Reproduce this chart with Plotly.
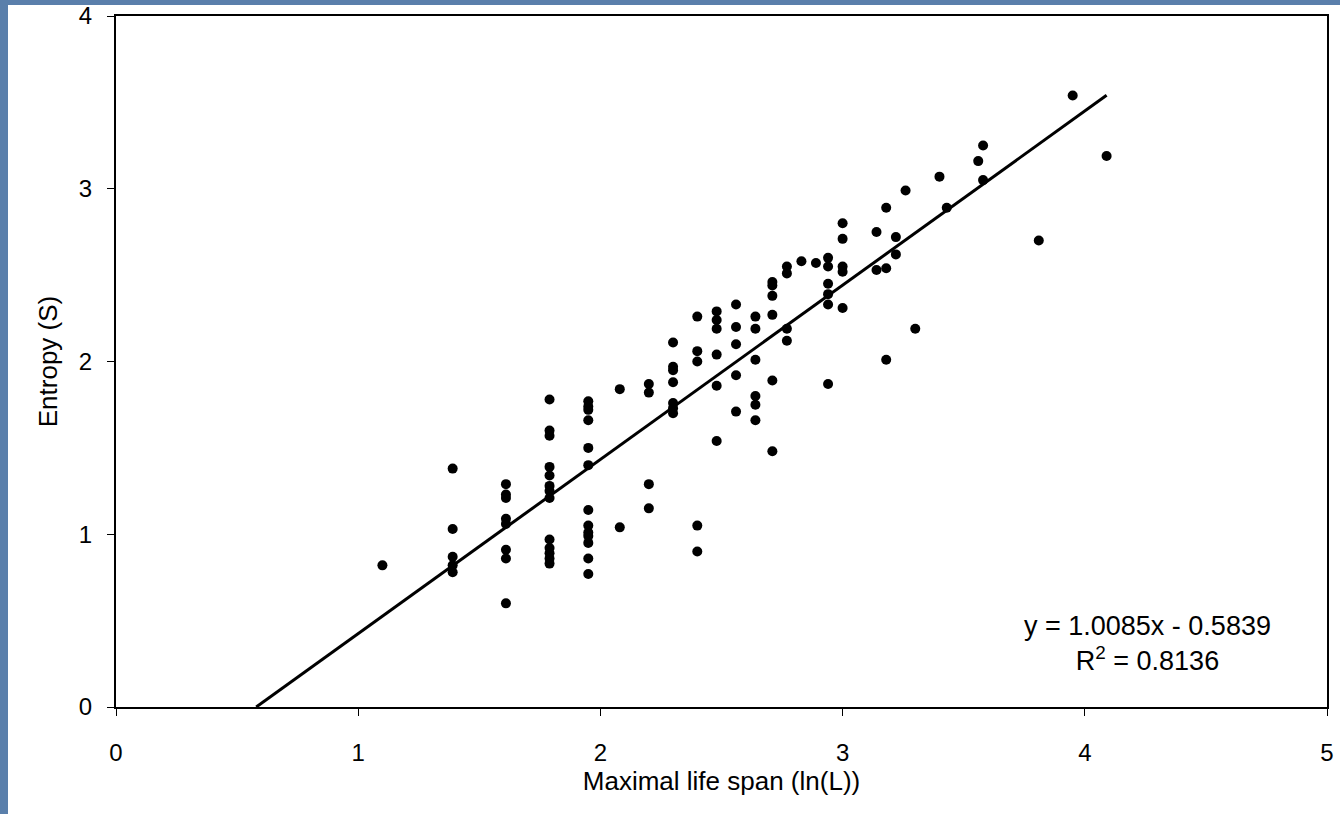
import numpy as np
import plotly.graph_objects as go

# Maximal life span (ln L) and entropy S, read column by column
ln_L = (
    [1.10]
    + [1.39] * 5
    + [1.61] * 8
    + [1.79] * 13
    + [1.95] * 13
    + [2.08] * 2
    + [2.20] * 4
    + [2.30] * 7
    + [2.40] * 5
    + [2.48] * 6
    + [2.56] * 5
    + [2.64] * 6
    + [2.71] * 6
    + [2.77] * 4
    + [2.83, 2.89]
    + [2.94] * 6
    + [3.00] * 5
    + [3.14] * 2
    + [3.18] * 3
    + [3.22] * 2
    + [3.26, 3.30, 3.40, 3.43, 3.56, 3.58, 3.58, 3.81, 3.95, 4.09]
)
entropy_S = (
    [0.82]
    + [1.38, 1.03, 0.87, 0.82, 0.78]
    + [1.29, 1.23, 1.21, 1.09, 1.06, 0.91, 0.86, 0.60]
    + [1.78, 1.60, 1.57, 1.39, 1.34, 1.28, 1.25, 1.21, 0.97, 0.92, 0.89, 0.86, 0.83]
    + [1.77, 1.74, 1.72, 1.66, 1.50, 1.40, 1.14, 1.05, 1.01, 0.99, 0.95, 0.86, 0.77]
    + [1.84, 1.04]
    + [1.87, 1.82, 1.29, 1.15]
    + [2.11, 1.97, 1.95, 1.88, 1.76, 1.73, 1.70]
    + [2.26, 2.06, 2.00, 1.05, 0.90]
    + [2.29, 2.24, 2.19, 2.04, 1.86, 1.54]
    + [2.33, 2.20, 2.10, 1.92, 1.71]
    + [2.26, 2.19, 2.01, 1.80, 1.75, 1.66]
    + [2.46, 2.44, 2.38, 2.27, 1.89, 1.48]
    + [2.55, 2.51, 2.19, 2.12]
    + [2.58, 2.57]
    + [2.60, 2.55, 2.45, 2.39, 2.33, 1.87]
    + [2.80, 2.71, 2.55, 2.52, 2.31]
    + [2.75, 2.53]
    + [2.89, 2.54, 2.01]
    + [2.72, 2.62]
    + [2.99, 2.19, 3.07, 2.89, 3.16, 3.25, 3.05, 2.70, 3.54, 3.19]
)

# Trendline as printed on the chart
slope = 1.0085
intercept = -0.5839
r_squared = 0.8136

x_ticks = [0, 1, 2, 3, 4, 5]
y_ticks = [0, 1, 2, 3, 4]

x_title = "Maximal life span (ln(L))"
y_title = "Entropy (S)"

FONT = "Liberation Sans, Arial, sans-serif"
BLUE = "#5a7fab"

trend_x = np.array([-intercept / slope, max(ln_L)])
trend_y = slope * trend_x + intercept

fig = go.Figure()
fig.add_trace(go.Scatter(
    x=trend_x, y=trend_y, mode="lines",
    line=dict(color="black", width=3), showlegend=False, hoverinfo="skip",
))
fig.add_trace(go.Scatter(
    x=ln_L, y=entropy_S, mode="markers",
    marker=dict(color="black", size=10, line=dict(width=0)),
    showlegend=False,
))

fig.add_annotation(
    x=4.26, y=0.37, xref="x", yref="y",
    text=f"y = {slope:.4f}x - {abs(intercept):.4f}<br>R<sup>2</sup> = {r_squared:.4f}",
    showarrow=False, align="center",
    font=dict(family=FONT, size=27, color="black"),
)

# white page over a blue backdrop (left and top edges)
fig.add_shape(
    type="rect", xref="paper", yref="paper", layer="below",
    x0=(8 - 116) / 1211, x1=1.05, y0=-0.2, y1=(707 - 5) / 691,
    fillcolor="white", line=dict(width=0),
)

fig.update_layout(
    width=1340, height=814,
    margin=dict(l=116, r=13, t=16, b=107),
    paper_bgcolor=BLUE,
    plot_bgcolor="white",
    font=dict(family=FONT, color="black", size=24),
    xaxis=dict(
        range=[0, 5], tickvals=x_ticks, ticktext=[str(v) for v in x_ticks],
        showgrid=False, zeroline=False, automargin=False,
        showline=True, linecolor="black", linewidth=2, mirror=True,
        ticks="outside", ticklen=7, tickcolor="black", tickwidth=1,
        ticklabelstandoff=16,
        tickfont=dict(size=24),
        title=dict(text=x_title, font=dict(size=26), standoff=2),
    ),
    yaxis=dict(
        range=[0, 4], tickvals=y_ticks, ticktext=[str(v) for v in y_ticks],
        showgrid=False, zeroline=False, automargin=False,
        showline=True, linecolor="black", linewidth=2, mirror=True,
        ticks="outside", ticklen=7, tickcolor="black", tickwidth=1,
        ticklabelstandoff=10,
        tickfont=dict(size=24),
        title=dict(text=y_title, font=dict(size=26), standoff=14),
    ),
)

fig.write_html(
    "out.html",
    config={"displayModeBar": False},
    post_script=f"document.body.style.margin='0';document.body.style.background='{BLUE}';",
)
